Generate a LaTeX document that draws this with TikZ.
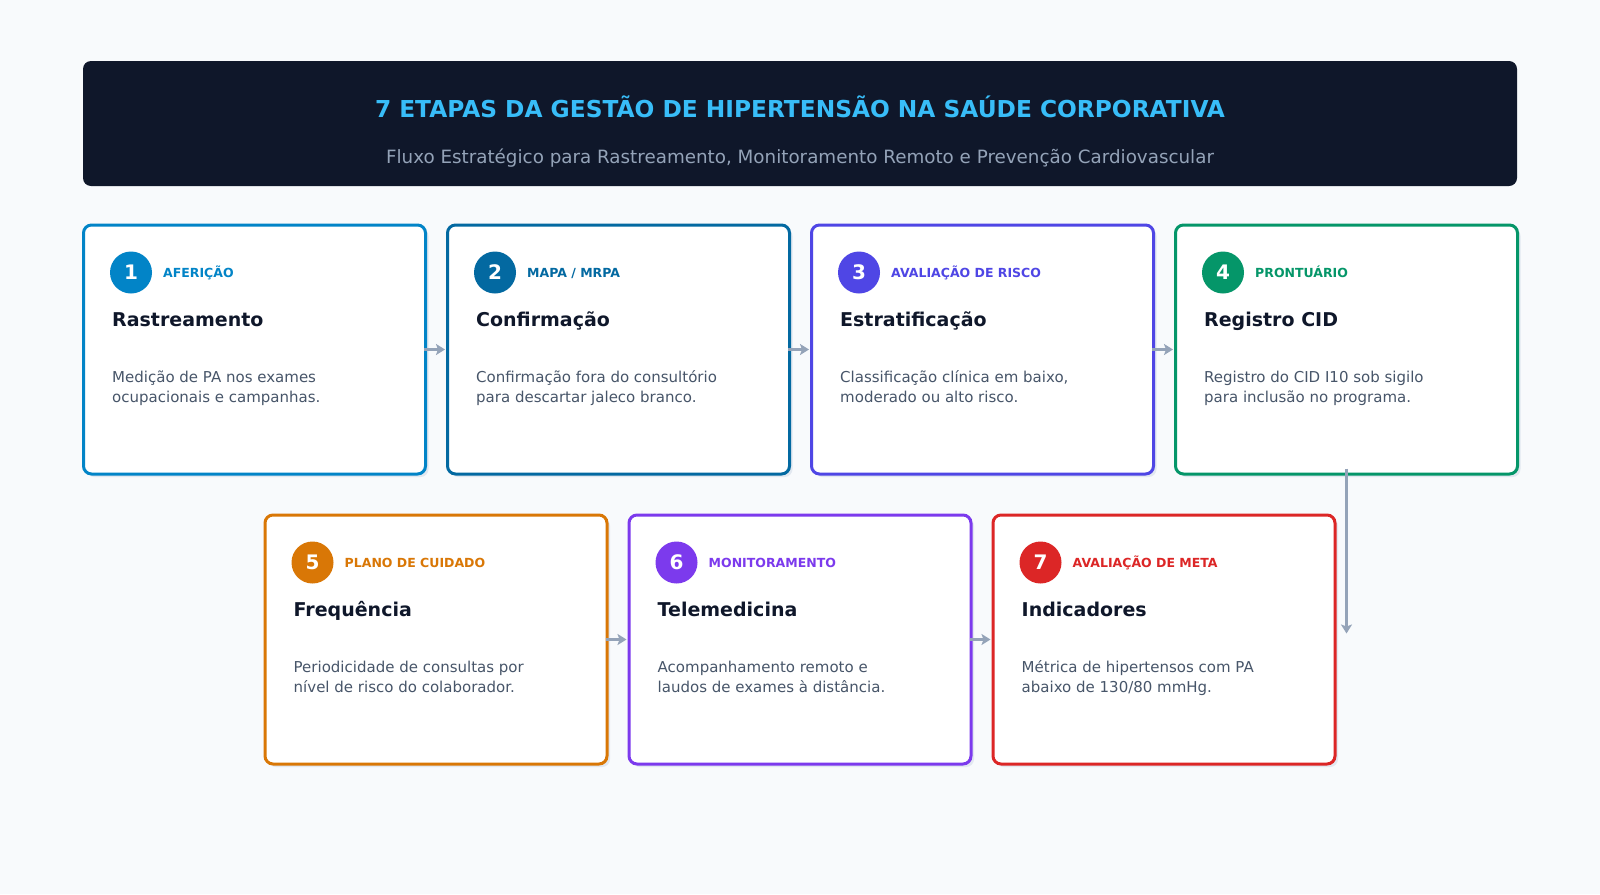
\documentclass[tikz,border=0pt]{standalone}
\usepackage{fontspec}
\setmainfont{DejaVu Sans}
\usepackage{tikz}
\usetikzlibrary{arrows.meta,shadows}
\usetikzlibrary{positioning}
\definecolor{bg}{HTML}{F8FAFC}
\definecolor{night}{HTML}{0F172A}
\definecolor{sky}{HTML}{38BDF8}
\definecolor{slate}{HTML}{94A3B8}
\definecolor{ink}{HTML}{475569}
\definecolor{shade}{HTML}{E2E8F0}
\definecolor{cola}{HTML}{0284C7}
\definecolor{colb}{HTML}{0369A1}
\definecolor{colc}{HTML}{4F46E5}
\definecolor{cold}{HTML}{059669}
\definecolor{cole}{HTML}{D97706}
\definecolor{colf}{HTML}{7C3AED}
\definecolor{colg}{HTML}{DC2626}
\tikzset{
    card/.style={
           rectangle, rounded corners=8pt,
           draw=#1, line width=3pt, fill=white,
           minimum width=342pt, minimum height=249pt,
           drop shadow={shadow xshift=3pt, shadow yshift=-3pt, fill=shade, opacity=1},
           },
}
\tikzset{
    badge/.style={
           circle, fill=#1, text=white,
           minimum size=42pt, inner sep=0pt,
           font=\fontsize{20}{24}\selectfont\bfseries,
           },
}
\tikzset{
    tag/.style={
           anchor=base west, inner sep=0pt, text=#1,
           font=\fontsize{12.5}{15}\selectfont\bfseries,
           },
    heading/.style={
           anchor=base west, inner sep=0pt, text=night,
           font=\fontsize{19}{23}\selectfont\bfseries,
           },
    desc/.style={
           anchor=base west, inner sep=0pt, text=ink, align=left,
           font=\fontsize{15}{20}\selectfont,
           },
    flow/.style={
           draw=slate, line width=3.5pt,
           -{Stealth[length=9pt,width=11pt,inset=2pt]},
           },
}

\begin{document}
\begin{tikzpicture}[x=1pt,y=-1pt]
\fill[bg] (0,0) rectangle (1600,894);
\useasboundingbox (0,0) rectangle (1600,894);
% header
\node[fill=night, rounded corners=8pt, minimum width=1434pt, minimum height=125pt] (head) at (800,123.5) {};
\node[anchor=base, text=sky, font=\fontsize{23.3}{28}\selectfont\bfseries] (title) at (800,117) {7 ETAPAS DA GESTÃO DE HIPERTENSÃO NA SAÚDE CORPORATIVA};
\node[anchor=base, text=slate, font=\fontsize{18.3}{22}\selectfont] (subtitle) at (800,163) {Fluxo Estratégico para Rastreamento, Monitoramento Remoto e Prevenção Cardiovascular};
% first row
\node[card=cola] (c1) at (254.5,349.5) {};
\node[card=colb, right=19pt of c1] (c2) {};
\node[card=colc, right=19pt of c2] (c3) {};
\node[card=cold, right=19pt of c3] (c4) {};
% second row
\node[card=cole] (c5) at (436,639.5) {};
\node[card=colf, right=19pt of c5] (c6) {};
\node[card=colg, right=19pt of c6] (c7) {};
% card 1
\node[badge=cola] (n1) at ([shift={(49,49)}]c1.north west) {1};
\node[tag=cola] (t1) at ([shift={(81,54)}]c1.north west) {AFERIÇÃO};
\node[heading] (h1) at ([shift={(30,103)}]c1.north west) {Rastreamento};
\node[desc] (d1) at ([shift={(30,179)}]c1.north west) {Medição de PA nos exames\\ocupacionais e campanhas.};
% card 2
\node[badge=colb] (n2) at ([shift={(49,49)}]c2.north west) {2};
\node[tag=colb] (t2) at ([shift={(81,54)}]c2.north west) {MAPA / MRPA};
\node[heading] (h2) at ([shift={(30,103)}]c2.north west) {Confirmação};
\node[desc] (d2) at ([shift={(30,179)}]c2.north west) {Confirmação fora do consultório\\para descartar jaleco branco.};
% card 3
\node[badge=colc] (n3) at ([shift={(49,49)}]c3.north west) {3};
\node[tag=colc] (t3) at ([shift={(81,54)}]c3.north west) {AVALIAÇÃO DE RISCO};
\node[heading] (h3) at ([shift={(30,103)}]c3.north west) {Estratificação};
\node[desc] (d3) at ([shift={(30,179)}]c3.north west) {Classificação clínica em baixo,\\moderado ou alto risco.};
% card 4
\node[badge=cold] (n4) at ([shift={(49,49)}]c4.north west) {4};
\node[tag=cold] (t4) at ([shift={(81,54)}]c4.north west) {PRONTUÁRIO};
\node[heading] (h4) at ([shift={(30,103)}]c4.north west) {Registro CID};
\node[desc] (d4) at ([shift={(30,179)}]c4.north west) {Registro do CID I10 sob sigilo\\para inclusão no programa.};
% card 5
\node[badge=cole] (n5) at ([shift={(49,49)}]c5.north west) {5};
\node[tag=cole] (t5) at ([shift={(81,54)}]c5.north west) {PLANO DE CUIDADO};
\node[heading] (h5) at ([shift={(30,103)}]c5.north west) {Frequência};
\node[desc] (d5) at ([shift={(30,179)}]c5.north west) {Periodicidade de consultas por\\nível de risco do colaborador.};
% card 6
\node[badge=colf] (n6) at ([shift={(49,49)}]c6.north west) {6};
\node[tag=colf] (t6) at ([shift={(81,54)}]c6.north west) {MONITORAMENTO};
\node[heading] (h6) at ([shift={(30,103)}]c6.north west) {Telemedicina};
\node[desc] (d6) at ([shift={(30,179)}]c6.north west) {Acompanhamento remoto e\\laudos de exames à distância.};
% card 7
\node[badge=colg] (n7) at ([shift={(49,49)}]c7.north west) {7};
\node[tag=colg] (t7) at ([shift={(81,54)}]c7.north west) {AVALIAÇÃO DE META};
\node[heading] (h7) at ([shift={(30,103)}]c7.north west) {Indicadores};
\node[desc] (d7) at ([shift={(30,179)}]c7.north west) {Métrica de hipertensos com PA\\abaixo de 130/80 mmHg.};
% connectors
\draw[flow] ([xshift=-3pt]c1.east) -- ([xshift=-1pt]c2.west);
\draw[flow] ([xshift=-3pt]c2.east) -- ([xshift=-1pt]c3.west);
\draw[flow] ([xshift=-3pt]c3.east) -- ([xshift=-1pt]c4.west);
\draw[flow] ([xshift=-3pt]c5.east) -- ([xshift=-1pt]c6.west);
\draw[flow] ([xshift=-3pt]c6.east) -- ([xshift=-1pt]c7.west);
\coordinate (v7) at (c4.south |- c7.east);
\draw[flow] ([yshift=7pt]c4.south) -- ([yshift=6pt]v7);
\end{tikzpicture}
\end{document}
